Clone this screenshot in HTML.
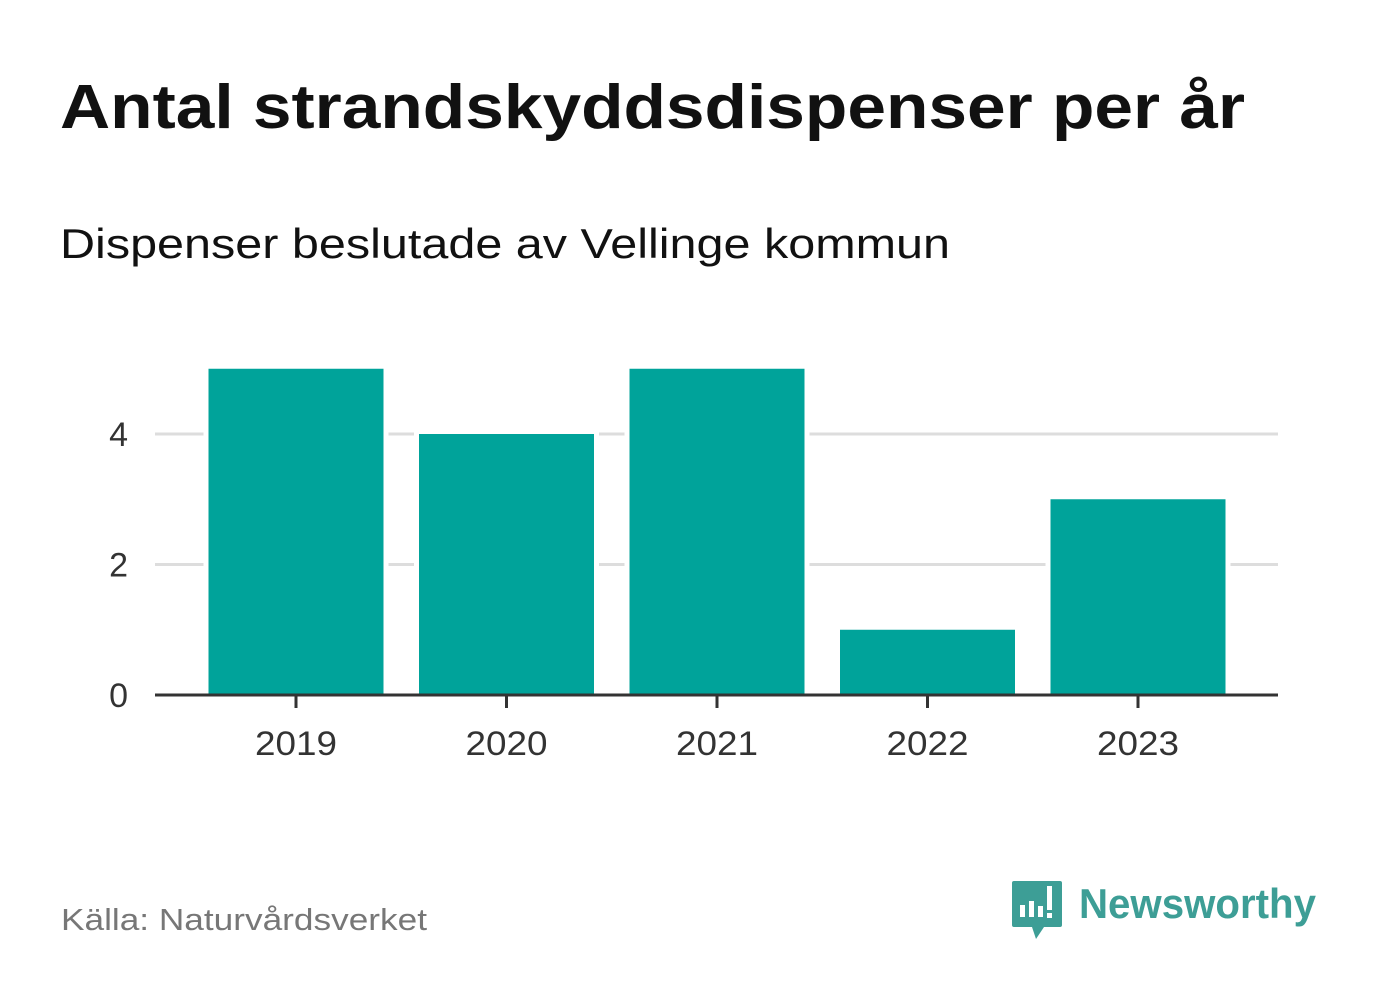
<!DOCTYPE html>
<html><head><meta charset="utf-8"><style>
body{margin:0;width:1382px;height:999px;background:#fff;overflow:hidden;font-family:"Liberation Sans","DejaVu Sans",sans-serif}
</style></head><body>
<svg width="1382" height="999" xmlns="http://www.w3.org/2000/svg">
<text x="60" y="128" font-size="62" font-weight="bold" fill="#111" textLength="1185" lengthAdjust="spacingAndGlyphs">Antal strandskyddsdispenser per år</text>
<text x="60" y="258" font-size="42" fill="#111" textLength="890" lengthAdjust="spacingAndGlyphs">Dispenser beslutade av Vellinge kommun</text>
<g id="grid"></g>
<g id="bars"></g>
<g id="xaxis"></g>
<text x="61" y="930" font-size="31" fill="#777" textLength="366" lengthAdjust="spacingAndGlyphs">Källa: Naturvårdsverket</text>
<g>
<path d="M1014 881 h46 a2 2 0 0 1 2 2 v42 a2 2 0 0 1 -2 2 h-16 l-8 12 l-4 -12 h-18 a2 2 0 0 1 -2 -2 v-42 a2 2 0 0 1 2 -2z" fill="#3d9e96"/>
<rect x="1020" y="905" width="5" height="12" fill="#fff"/>
<rect x="1029" y="901" width="5" height="16" fill="#fff"/>
<rect x="1038" y="906" width="5" height="11" fill="#fff"/>
<rect x="1047" y="886" width="5" height="24" fill="#fff"/>
<rect x="1047" y="913" width="5" height="5" fill="#fff"/>
<text x="1079" y="918" font-size="42" font-weight="bold" fill="#3d9e96" textLength="237" lengthAdjust="spacingAndGlyphs">Newsworthy</text>
</g>
</svg>
<script>
const categories=["2019","2020","2021","2022","2023"];
const values=[5,4,5,1,3];
const yTicks=[0,2,4];
const NS="http://www.w3.org/2000/svg";
const x0=155,x1=1278,base=695,unit=65.25,step=210.5,firstC=296,bw=175;
const y=v=>base-v*unit, xc=i=>firstC+i*step;
function mk(tag,attrs,parent,txt){const e=document.createElementNS(NS,tag);for(const k in attrs)e.setAttribute(k,attrs[k]);if(txt!=null)e.textContent=txt;document.getElementById(parent).appendChild(e);return e;}
yTicks.forEach(t=>{
 if(t>0){const l=mk('line',{x1:x0,x2:x1,y1:y(t),y2:y(t),stroke:'#ddd','stroke-width':3},'grid');
 
 }
 const tx=mk('text',{x:128,y:y(t)+12,'font-size':34,fill:'#333','text-anchor':'end'},'grid',t);
 
 
});
values.forEach((v,i)=>{
 mk('rect',{x:xc(i)-bw/2-5,y:y(v)-5,width:bw+10,height:v*unit+5,fill:'#fff'},'bars');
 const r=mk('rect',{x:xc(i)-bw/2,y:y(v),width:bw,height:v*unit,fill:'#00a39a'},'bars');
 
 
});
const ax=mk('line',{x1:x0,x2:x1,y1:base,y2:base,stroke:'#333','stroke-width':3},'xaxis');


categories.forEach((c,i)=>{
 mk('line',{x1:xc(i),x2:xc(i),y1:base,y2:base+13,stroke:'#333','stroke-width':3},'xaxis');
 const t=mk('text',{x:xc(i),y:755,'font-size':34,fill:'#333','text-anchor':'middle',textLength:82,lengthAdjust:'spacingAndGlyphs'},'xaxis',c);
 
 
});
</script>
</body></html>
